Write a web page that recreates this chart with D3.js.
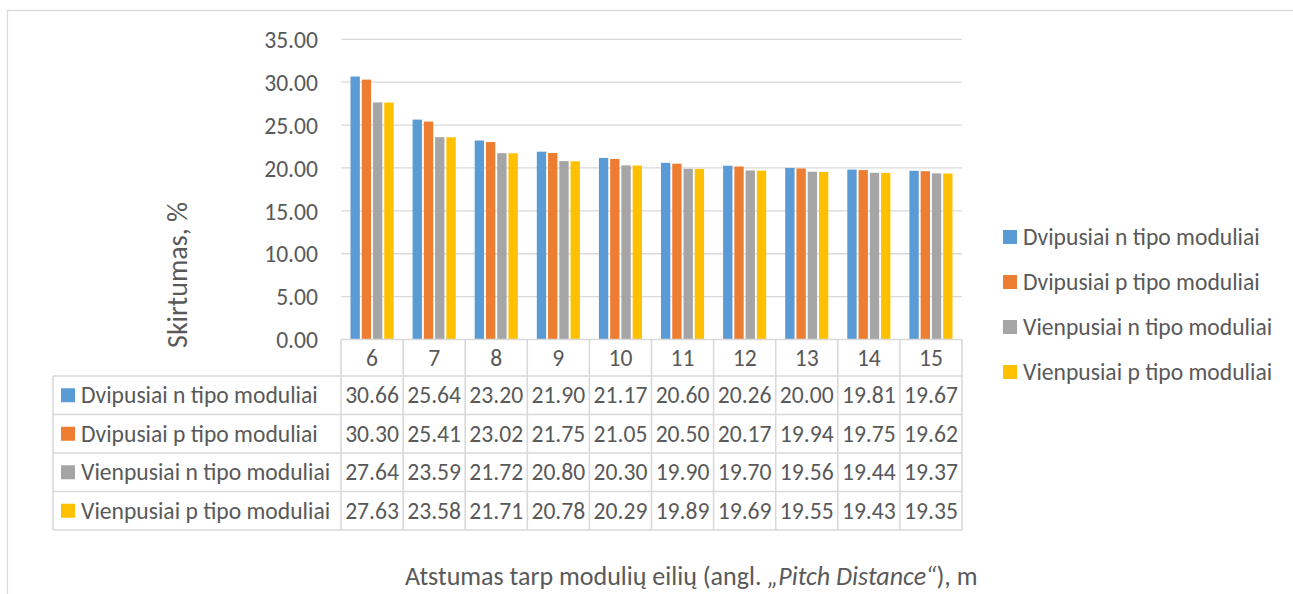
<!DOCTYPE html>
<html>
<head>
<meta charset="utf-8">
<script src="https://cdn.jsdelivr.net/npm/d3@7"></script>
<style>
  body { margin: 0; background: #fff; }
  svg { display: block; }
</style>
</head>
<body>
<svg id="chart" width="1293" height="594"></svg>
<script>
// Pitch distance between module rows, m
const categories = ["6", "7", "8", "9", "10", "11", "12", "13", "14", "15"];

const seriesNames = [
  "Dvipusiai n tipo moduliai",
  "Dvipusiai p tipo moduliai",
  "Vienpusiai n tipo moduliai",
  "Vienpusiai p tipo moduliai"
];

// Difference, %
const dvipusiaiN  = [30.66, 25.64, 23.20, 21.90, 21.17, 20.60, 20.26, 20.00, 19.81, 19.67];
const dvipusiaiP  = [30.30, 25.41, 23.02, 21.75, 21.05, 20.50, 20.17, 19.94, 19.75, 19.62];
const vienpusiaiN = [27.64, 23.59, 21.72, 20.80, 20.30, 19.90, 19.70, 19.56, 19.44, 19.37];
const vienpusiaiP = [27.63, 23.58, 21.71, 20.78, 20.29, 19.89, 19.69, 19.55, 19.43, 19.35];

const yTicks = [0, 5, 10, 15, 20, 25, 30, 35];

const colors = ["#5B9BD5", "#ED7D31", "#A5A5A5", "#FFC000"];

const series = [dvipusiaiN, dvipusiaiP, vienpusiaiN, vienpusiaiP];

const FONT = "Carlito, Lato, 'Open Sans', sans-serif";
const TEXT = "#595959";
const LINE = "#D9D9D9";
const FS = 23.6;

const svg = d3.select("#chart");

// chart frame
svg.append("rect")
  .attr("x", 7.5).attr("y", 10.5)
  .attr("width", 1300).attr("height", 700)
  .attr("fill", "#fff").attr("stroke", LINE).attr("stroke-width", 1.2);

// scales
const plot = { left: 341, right: 962, top: 39.3, bottom: 339.5 };
const x = d3.scaleBand().domain(categories).range([plot.left, plot.right]).padding(0);
const y = d3.scaleLinear().domain([0, 35]).range([plot.bottom, plot.top]);
const inner = d3.scaleBand().domain(d3.range(series.length))
  .range([9.5, x.bandwidth() - 9.5]).paddingInner(0.17);

// gridlines
svg.append("g").selectAll("line")
  .data(yTicks.filter(t => t > 0))
  .join("line")
  .attr("x1", plot.left).attr("x2", plot.right)
  .attr("y1", d => y(d)).attr("y2", d => y(d))
  .attr("stroke", LINE).attr("stroke-width", 1.3);

// y axis labels
const yAxis = d3.axisLeft(y).tickValues(yTicks).tickFormat(d3.format(".2f")).tickSize(0).tickPadding(0);
const yg = svg.append("g").attr("transform", "translate(318,0)").call(yAxis);
yg.select(".domain").remove();
yg.selectAll("text")
  .attr("font-family", FONT).attr("font-size", FS).attr("fill", TEXT)
  .attr("dy", "0.35em");

// bars
const groups = svg.append("g").selectAll("g")
  .data(series)
  .join("g")
  .attr("fill", (d, i) => colors[i]);

groups.each(function (vals, si) {
  d3.select(this).selectAll("rect")
    .data(vals)
    .join("rect")
    .attr("x", (v, ci) => x(categories[ci]) + inner(si))
    .attr("width", inner.bandwidth())
    .attr("y", v => y(v))
    .attr("height", v => y(0) - y(v));
});

// y axis title
svg.append("text")
  .attr("transform", "translate(177,275) rotate(-90)")
  .attr("text-anchor", "middle").attr("dominant-baseline", "central")
  .attr("font-family", FONT).attr("font-size", 28).attr("fill", TEXT)
  .text("Skirtumas, %");

// data table
const headerBottom = 376;
const rowH = 38.5;
const tableLeft = 53;
const tableBottom = headerBottom + rowH * series.length;
const table = svg.append("g").attr("stroke", LINE).attr("stroke-width", 1.6);

// horizontal rules
table.append("line")
  .attr("x1", plot.left).attr("x2", plot.right)
  .attr("y1", plot.bottom).attr("y2", plot.bottom);
table.selectAll("line.h")
  .data(d3.range(series.length + 1))
  .join("line").attr("class", "h")
  .attr("x1", tableLeft).attr("x2", plot.right)
  .attr("y1", i => headerBottom + i * rowH).attr("y2", i => headerBottom + i * rowH);

// vertical rules
table.append("line")
  .attr("x1", tableLeft).attr("x2", tableLeft)
  .attr("y1", headerBottom).attr("y2", tableBottom);
table.selectAll("line.v")
  .data(categories.concat([null]))
  .join("line").attr("class", "v")
  .attr("x1", d => d === null ? plot.right : x(d))
  .attr("x2", d => d === null ? plot.right : x(d))
  .attr("y1", plot.bottom).attr("y2", tableBottom);

// category header
svg.append("g").selectAll("text")
  .data(categories)
  .join("text")
  .attr("x", d => x(d) + x.bandwidth() / 2)
  .attr("y", (plot.bottom + headerBottom) / 2)
  .attr("text-anchor", "middle").attr("dominant-baseline", "central")
  .attr("font-family", FONT).attr("font-size", FS).attr("fill", TEXT)
  .text(d => d);

// table rows
const rows = svg.append("g").selectAll("g")
  .data(series)
  .join("g")
  .attr("transform", (d, i) => `translate(0,${headerBottom + i * rowH + rowH / 2})`);

rows.append("rect")
  .attr("x", 61).attr("y", -7).attr("width", 14).attr("height", 14)
  .attr("fill", (d, i) => colors[i]);

rows.append("text")
  .attr("x", 81).attr("dominant-baseline", "central")
  .attr("font-family", FONT).attr("font-size", FS).attr("fill", TEXT)
  .text((d, i) => seriesNames[i]);

rows.selectAll("text.val")
  .data(d => d)
  .join("text").attr("class", "val")
  .attr("x", (v, ci) => x(categories[ci]) + x.bandwidth() / 2)
  .attr("text-anchor", "middle").attr("dominant-baseline", "central")
  .attr("font-family", FONT).attr("font-size", FS).attr("fill", TEXT)
  .text(v => v.toFixed(2));

// legend
const legend = svg.append("g").selectAll("g")
  .data(seriesNames)
  .join("g")
  .attr("transform", (d, i) => `translate(1003,${237 + i * 45})`);

legend.append("rect")
  .attr("x", 0).attr("y", -7).attr("width", 14).attr("height", 14)
  .attr("fill", (d, i) => colors[i]);

legend.append("text")
  .attr("x", 20).attr("dominant-baseline", "central")
  .attr("font-family", FONT).attr("font-size", FS).attr("fill", TEXT)
  .text(d => d);

// x axis title
const xt = svg.append("text")
  .attr("x", 405).attr("y", 585)
  .attr("text-anchor", "start")
  .attr("font-family", FONT).attr("font-size", 26).attr("fill", TEXT);
xt.append("tspan").text("Atstumas tarp modulių eilių (angl. ");
xt.append("tspan").attr("font-style", "italic").text("„Pitch Distance“");
xt.append("tspan").text("), m");
</script>
</body>
</html>
